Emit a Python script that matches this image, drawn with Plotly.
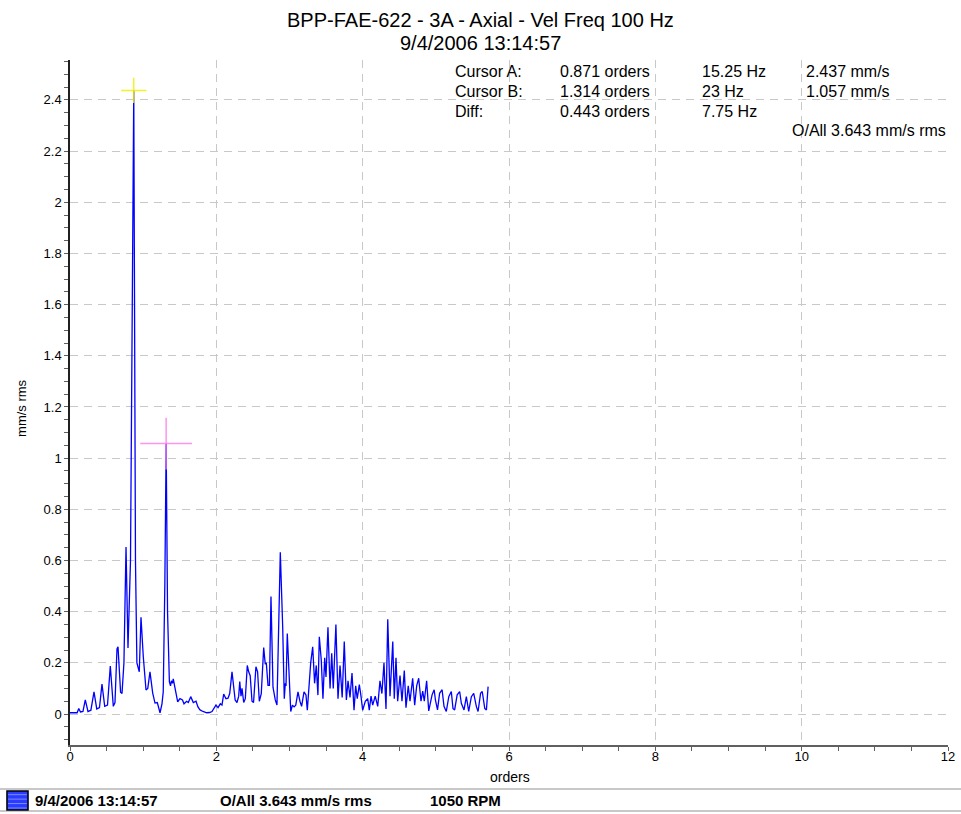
import plotly.graph_objects as go

# spectrum, frequency in Hz and amplitude in mm/s rms
run_speed_rpm = 1050
freq_hz = [
    0.0, 1.7, 2.1, 2.5, 3.1, 3.66, 4.3, 5.0, 5.74, 6.4,
    7.05, 7.65, 8.3, 8.97, 9.64, 10.36, 10.76, 11.24, 11.48, 12.1,
    12.44, 12.9, 13.4, 13.87, 14.47, 15.25, 15.66, 16.0, 16.57, 16.98,
    17.53, 18.18, 18.6, 19.13, 19.78, 20.33, 20.88, 21.29, 21.53, 22.0,
    22.3, 22.68, 23.0, 23.33, 23.77, 24.05, 24.24, 24.5, 24.7, 25.26,
    25.76, 26.3, 26.9, 27.27, 27.9, 28.3, 28.87, 29.5, 30.14, 30.6,
    31.1, 31.8, 32.7, 33.4, 33.96, 34.9, 35.4, 35.95, 36.35, 36.76,
    37.3, 37.8, 38.2, 38.75, 39.15, 39.5, 39.94, 40.35, 40.6, 40.9,
    41.14, 41.55, 41.93, 42.4, 42.74, 43.1, 43.53, 43.9, 44.47, 44.87,
    45.28, 45.75, 46.33, 46.7, 46.95, 47.36, 47.7, 48.07, 48.55, 49.1,
    49.5, 50.3, 50.87, 51.25, 51.5, 51.66, 51.97, 52.4, 52.8, 53.2,
    53.6, 54.0, 54.53, 55.0, 55.4, 55.97, 56.44, 56.76, 57.16, 57.57,
    58.05, 58.5, 58.9, 59.3, 59.63, 60.1, 60.5, 60.92, 61.23, 61.7,
    62.2, 62.6, 62.97, 63.6, 64.1, 64.58, 65.1, 65.6, 66.1, 66.5,
    66.97, 67.45, 67.93, 68.33, 68.7, 69.2, 69.6, 70.0, 70.63, 71.2,
    71.58, 72.0, 72.4, 73.0, 73.6, 74.14, 74.6, 75.1, 75.58, 76.0,
    76.54, 77.2, 77.56, 77.97, 78.37, 78.93, 79.4, 79.96, 80.36, 80.9,
    81.32, 81.96, 82.44, 82.92, 83.4, 83.95, 84.36, 84.74, 85.3, 85.8,
    86.6, 87.1, 87.4, 87.9, 88.4, 89.0, 89.45, 90.0, 90.6, 91.2,
    91.6, 92.0, 92.6, 93.2, 93.6, 94.24, 94.8, 95.36, 96.0, 96.56,
    97.2, 97.6, 98.2, 98.6, 99.2, 99.6, 100.0,
]
amp_mm_s = [
    0.005, 0.005, 0.022, 0.008, 0.01, 0.055, 0.01, 0.015, 0.087, 0.02,
    0.025, 0.117, 0.03, 0.035, 0.188, 0.03, 0.045, 0.255, 0.263, 0.085,
    0.08, 0.2, 0.653, 0.258, 0.6, 2.437, 0.6, 0.2, 0.165, 0.378,
    0.224, 0.094, 0.1, 0.165, 0.082, 0.043, 0.045, 0.015, 0.005, 0.04,
    0.087, 0.5, 1.057, 0.4, 0.126, 0.11, 0.13, 0.12, 0.137, 0.09,
    0.048, 0.06, 0.055, 0.04, 0.05, 0.045, 0.068, 0.045, 0.05, 0.028,
    0.016, 0.01, 0.005, 0.006, 0.01, 0.035, 0.025, 0.04, 0.035, 0.078,
    0.06, 0.062, 0.08, 0.165, 0.107, 0.055, 0.045, 0.07, 0.127, 0.07,
    0.1, 0.045, 0.06, 0.19, 0.165, 0.15, 0.05, 0.045, 0.185, 0.165,
    0.05, 0.08, 0.26, 0.195, 0.2, 0.112, 0.112, 0.459, 0.105, 0.055,
    0.035, 0.632, 0.341, 0.06, 0.12, 0.11, 0.315, 0.14, 0.01, 0.035,
    0.028, 0.035, 0.087, 0.05, 0.03, 0.087, 0.075, 0.015, 0.115, 0.2,
    0.263, 0.12, 0.19, 0.074, 0.302, 0.21, 0.06, 0.22, 0.145, 0.339,
    0.1, 0.237, 0.1, 0.35, 0.06, 0.19, 0.065, 0.283, 0.055, 0.13,
    0.065, 0.16, 0.015, 0.11, 0.06, 0.115, 0.07, 0.015, 0.05, 0.06,
    0.015, 0.07, 0.035, 0.07, 0.03, 0.13, 0.08, 0.2, 0.02, 0.37,
    0.07, 0.283, 0.06, 0.22, 0.05, 0.15, 0.05, 0.17, 0.025, 0.11,
    0.05, 0.14, 0.035, 0.11, 0.14, 0.05, 0.09, 0.05, 0.13, 0.012,
    0.075, 0.095, 0.055, 0.016, 0.081, 0.095, 0.03, 0.01, 0.068, 0.088,
    0.022, 0.016, 0.075, 0.088, 0.042, 0.016, 0.068, 0.01, 0.068, 0.081,
    0.029, 0.01, 0.081, 0.088, 0.022, 0.016, 0.107,
]

# cursors (orders, mm/s)
cursor_a = (0.871, 2.437)
cursor_b = (1.314, 1.057)

title_line1 = "BPP-FAE-622 - 3A - Axial - Vel Freq 100 Hz"
title_line2 = "9/4/2006 13:14:57"
cursor_rows = [
    ["Cursor A:", "0.871 orders", "15.25 Hz", "2.437 mm/s"],
    ["Cursor B:", "1.314 orders", "23 Hz", "1.057 mm/s"],
    ["Diff:", "0.443 orders", "7.75 Hz", ""],
]
overall_text = "O/All 3.643 mm/s rms"
legend_items = ["9/4/2006 13:14:57", "O/All 3.643 mm/s rms", "1050 RPM"]

run_speed_hz = run_speed_rpm / 60.0
orders = [f / run_speed_hz for f in freq_hz]

FONT = "Liberation Sans, Arial, sans-serif"

fig = go.Figure()
fig.add_trace(go.Scatter(
    x=orders, y=amp_mm_s, mode="lines",
    line=dict(color="#0000ff", width=1.3),
    hoverinfo="skip", showlegend=False,
))

# cursor crosshairs
fig.add_trace(go.Scatter(
    x=[cursor_a[0]], y=[cursor_a[1]], mode="markers",
    marker=dict(symbol="cross-thin", size=18,
                line=dict(color="rgba(240,240,0,0.85)", width=1.5)),
    showlegend=False, hoverinfo="skip",
))
fig.add_trace(go.Scatter(
    x=[cursor_b[0]], y=[cursor_b[1]], mode="markers",
    marker=dict(symbol="cross-thin", size=37,
                line=dict(color="rgba(255,120,235,0.8)", width=1.5)),
    showlegend=False, hoverinfo="skip",
))

grid = dict(showgrid=True, gridcolor="#c8c8c8", gridwidth=1, griddash="8px,6px")

fig.update_xaxes(
    range=[0, 12], dtick=2, tick0=0, zeroline=False, automargin=False,
    showline=True, linecolor="#606060", linewidth=2,
    ticks="outside", ticklen=4, tickcolor="#606060", ticklabelstandoff=-6,
    minor=dict(dtick=0.5, ticks="outside", ticklen=4, tickcolor="#606060", showgrid=False),
    tickfont=dict(family=FONT, size=13, color="#000"),
    **grid,
)
fig.update_yaxes(
    range=[-0.121, 2.556], dtick=0.2, tick0=0, zeroline=False, automargin=False,
    showline=True, linecolor="#202020", linewidth=1.5,
    ticks="outside", ticklen=4, tickcolor="#606060",
    minor=dict(dtick=0.05, ticks="outside", ticklen=4, tickcolor="#606060", showgrid=False),
    tickfont=dict(family=FONT, size=13, color="#000"),
    **grid,
)

ann = []
# title, two lines
ann.append(dict(text=title_line1, x=0.4675, y=1.0584, font=dict(size=20)))
ann.append(dict(text=title_line2, x=0.4675, y=1.0248, font=dict(size=20)))

# cursor table
col_x = [0.4362, 0.5558, 0.7175, 0.836]
row_y = [0.9825, 0.9547, 0.9255]
for r, row in enumerate(cursor_rows):
    for c, txt in enumerate(row):
        if txt:
            ann.append(dict(text=txt, x=col_x[c], y=row_y[r], xanchor="left",
                            font=dict(size=16)))
ann.append(dict(text=overall_text, x=1.0, y=0.8964, xanchor="right", font=dict(size=16)))

# axis titles
ann.append(dict(text="orders", x=0.5011, y=-0.0467, font=dict(size=14)))
ann.append(dict(text="mm/s rms", x=-0.0547, y=0.492, textangle=-90, font=dict(size=13)))

# bottom legend bar
leg_x = [-0.0421, 0.1686, 0.4077]
for x, txt in zip(leg_x, legend_items):
    ann.append(dict(text="<b>%s</b>" % txt, x=x, y=-0.0803, xanchor="left",
                    font=dict(size=15)))

for a in ann:
    a.setdefault("xanchor", "center")
    a.update(xref="paper", yref="paper", yanchor="middle", showarrow=False)
    a["font"].update(family=FONT, color="#000")

shapes = [
    dict(type="line", xref="paper", yref="paper", x0=-0.0797, x1=1.0148,
         y0=-0.0642, y1=-0.0642, line=dict(color="#c8c8c8", width=2)),
    dict(type="line", xref="paper", yref="paper", x0=-0.0797, x1=1.0148,
         y0=-0.0964, y1=-0.0964, line=dict(color="#c8c8c8", width=2)),
    dict(type="rect", xref="paper", yref="paper", x0=-0.0718, x1=-0.0478,
         y0=-0.0949, y1=-0.0672, fillcolor="#2a3cff", line=dict(color="#000", width=1.5)),
]
for yy in [-0.0725, -0.0790, -0.0855, -0.0920]:
    shapes.append(dict(type="line", xref="paper", yref="paper", x0=-0.0705, x1=-0.0491,
                       y0=yy, y1=yy, line=dict(color="#7f8cff", width=1)))

fig.update_layout(
    width=961, height=814, autosize=False,
    margin=dict(l=70, r=13, t=60, b=69, autoexpand=False),
    paper_bgcolor="white", plot_bgcolor="white",
    annotations=ann, shapes=shapes,
    font=dict(family=FONT),
)

# drop the browser's default body margin so the figure sits at the page corner
fig.write_html(
    "out.html",
    config={"displayModeBar": False, "responsive": False},
    post_script="document.body.style.margin='0';document.body.style.overflow='hidden';",
)
